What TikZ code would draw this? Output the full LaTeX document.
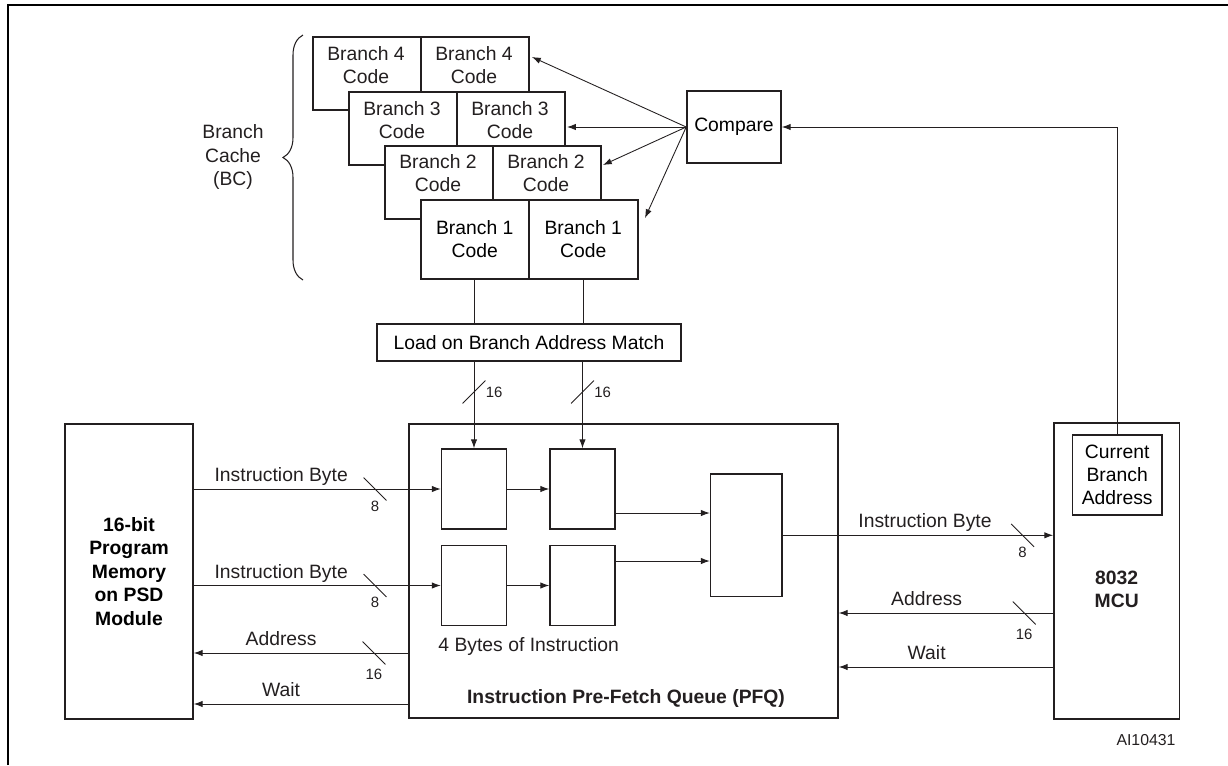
\documentclass[tikz,border=0pt]{standalone}
\usepackage{fontspec}
\setmainfont{Liberation Sans}
\usetikzlibrary{arrows.meta, positioning, decorations.pathreplacing}
\definecolor{ink}{HTML}{231F20}
\tikzset{
  box/.style={
    rectangle, draw=ink, line width=0.9pt, fill=white,
    inner sep=0pt, align=center,
    font=\fontsize{11}{13.1}\selectfont,
  },
  cell/.style={box, minimum width=2.16cm, minimum height=1.46cm, anchor=north west},
  reg/.style={box, minimum width=1.3cm, minimum height=1.6cm},
  txt/.style={inner sep=0pt, align=center, text=ink, font=\fontsize{11}{13.1}\selectfont},
  boldtxt/.style={txt, font=\fontsize{11}{13.1}\selectfont\bfseries},
  sig/.style={txt, text height=8pt, text depth=2.5pt},
  arr/.style={draw=ink, line width=0.5pt, -{Latex[length=5pt, width=3.6pt]}},
  wire/.style={draw=ink, line width=0.5pt},
  slash/.style={inner sep=0pt, minimum size=0.44cm},
  bits/.style={inner sep=0pt, text=ink, font=\fontsize{8.5}{10}\selectfont},
  brace/.style={draw=ink, line width=0.6pt, decorate, decoration={brace, amplitude=0.4cm}},
}

\begin{document}
\begin{tikzpicture}[x=0.02cm, y=-0.02cm]
  \useasboundingbox (0,0) rectangle (1228,765);

  % figure frame
  \draw[line width=1.2pt] (8,765) -- (8,5) -- (1228,5);

  % Branch cache, back to front
  \node[cell] (b4l) at (312,36) {};
  \node[cell] (b4r) at (420,36) {};
  \node[cell] (b3l) at (348,91) {};
  \node[cell] (b3r) at (456,91) {};
  \node[cell] (b2l) at (384,145) {};
  \node[cell] (b2r) at (492,145) {};
  \node[cell, minimum height=1.58cm] (b1l) at (420,199) {Branch 1\\Code};
  \node[cell, minimum height=1.58cm, minimum width=2.18cm] (b1r) at (528,199) {Branch 1\\Code};

  \node[txt] (t4l) at (366,65)  {Branch 4\\Code};
  \node[txt] (t4r) at (474,65)  {Branch 4\\Code};
  \node[txt] (t3l) at (402,120) {Branch 3\\Code};
  \node[txt] (t3r) at (510,120) {Branch 3\\Code};
  \node[txt] (t2l) at (438,173) {Branch 2\\Code};
  \node[txt] (t2r) at (546,173) {Branch 2\\Code};

  \draw[brace] (303,280) -- (303,35);
  \node[txt] (bc) at (233,157) {Branch\\Cache\\(BC)};

  % Compare
  \node[box, minimum width=1.88cm, minimum height=1.44cm] (cmp) at (734,127) {Compare};
  \coordinate (h4) at (532,57);
  \coordinate (h3) at (567,127);
  \coordinate (h2) at (603,165);
  \coordinate (h1) at (645,218);
  \foreach \h in {h4,h3,h2,h1}
    \draw[arr] (cmp.west) -- (\h);

  % Load on match
  \node[box, minimum width=6.08cm, minimum height=0.74cm] (load) at (529,342.5) {Load on Branch Address Match};
  \draw[wire] (b1l.south) -- (b1l.south |- load.north);
  \draw[wire] (b1r.south) -- (b1r.south |- load.north);

  % Pre-fetch queue
  \node[box, minimum width=8.58cm, minimum height=5.88cm] (pfq) at (623.5,571) {};
  \node[reg] (r1) at (474,489) {};
  \node[reg] (r2) at (582.5,489) {};
  \node[reg] (r3) at (474,585.5) {};
  \node[reg] (r4) at (582.5,585.5) {};
  \node[reg, minimum width=1.43cm, minimum height=2.45cm] (rq) at (746.3,535.3) {};
  \node[txt] (bytes) at (528.7,646) {4 Bytes of Instruction};
  \node[boldtxt] (pfqname) at (626,698) {Instruction Pre-Fetch Queue (PFQ)};

  \draw[arr] (r1.east) -- (r2.west);
  \draw[arr] (r3.east) -- (r4.west);
  \coordinate (r2o) at ([yshift=-0.48cm]r2.east);
  \coordinate (r4o) at ([yshift=0.49cm]r4.east);
  \draw[arr] (r2o) -- (r2o -| rq.west);
  \draw[arr] (r4o) -- (r4o -| rq.west);

  % load buses
  \draw[arr] (r1.north |- load.south) -- node[slash, pos=0.35] (s1) {} (r1.north);
  \draw[arr] (r2.north |- load.south) -- node[slash, pos=0.35] (s2) {} (r2.north);
  \draw[wire] (s1.south west) -- (s1.north east);
  \draw[wire] (s2.south west) -- (s2.north east);
  \node[bits, right=0pt of s1.east] (n1) {16};
  \node[bits, right=0pt of s2.east] (n2) {16};

  % Program memory
  \node[box, minimum width=2.56cm, minimum height=5.9cm,
        font=\fontsize{11}{13.4}\selectfont\bfseries] (pmem) at (129,571.5)
        {16-bit\\Program\\Memory\\on PSD\\Module};

  \draw[arr] (r1.west -| pmem.east) -- node[sig, above=1.5pt, pos=0.354] (ib1) {Instruction Byte}
    node[slash, pos=0.734] (s3) {} (r1.west);
  \draw[arr] (r3.west -| pmem.east) -- node[sig, above=1.5pt, pos=0.354] (ib2) {Instruction Byte}
    node[slash, pos=0.734] (s4) {} (r3.west);
  \coordinate (yaddl) at (0,653);
  \coordinate (ywaitl) at (0,704);
  \draw[arr] (yaddl -| pfq.west) -- node[sig, above=1.5pt, pos=0.593] (adl) {Address}
    node[slash, pos=0.16] (s5) {} (yaddl -| pmem.east);
  \draw[arr] (ywaitl -| pfq.west) -- node[sig, above=1.5pt, pos=0.593] (wtl) {Wait} (ywaitl -| pmem.east);

  \draw[wire] (s3.north west) -- (s3.south east);
  \draw[wire] (s4.north west) -- (s4.south east);
  \draw[wire] (s5.north west) -- (s5.south east);
  \node[bits, below=0pt of s3.south] (n3) {8};
  \node[bits, below=0pt of s4.south] (n4) {8};
  \node[bits, below=2.6pt of s5.south] (n5) {16};

  % 8032 MCU
  \node[box, minimum width=2.51cm, minimum height=5.92cm] (mcu) at (1116.7,571) {};
  \node[box, minimum width=1.79cm, minimum height=1.6cm] (cba) at (1117.2,475) {Current\\Branch\\Address};
  \node[boldtxt] (mcuname) at (1116.7,589) {8032\\MCU};
  \draw[arr] (cba.north) |- (cmp.east);

  \draw[arr] (rq.east) -- node[sig, above=1.5pt, pos=0.526] (ibr) {Instruction Byte}
    node[slash, pos=0.887] (s6) {} (rq.east -| mcu.west);
  \coordinate (yaddr) at (0,613);
  \coordinate (ywaitr) at (0,667);
  \draw[arr] (yaddr -| mcu.west) -- node[sig, above=1.5pt, pos=0.59] (adr) {Address}
    node[slash, pos=0.135] (s7) {} (yaddr -| pfq.east);
  \draw[arr] (ywaitr -| mcu.west) -- node[sig, above=1.5pt, pos=0.59] (wtr) {Wait} (ywaitr -| pfq.east);

  \draw[wire] (s6.north west) -- (s6.south east);
  \draw[wire] (s7.north west) -- (s7.south east);
  \node[bits, below=0pt of s6.south] (n6) {8};
  \node[bits, below=2.6pt of s7.south] (n7) {16};

  \node[bits, font=\fontsize{9}{11}\selectfont] (figno) at (1146,740) {AI10431};

\end{tikzpicture}
\end{document}
